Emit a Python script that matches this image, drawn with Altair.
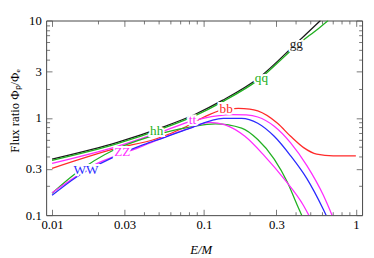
import altair as alt
import pandas as pd

# ---- curve data ----
channels = ["gg", "qq", "bb", "tt", "hh", "ZZ", "WW"]
colors = ["#1a1a1a", "#22b022", "#ff2a2a", "#ff2bff", "#22b022", "#ff2bff", "#2a2aff"]

gg_x = [0.01, 0.0269, 0.0526, 0.0883, 0.132, 0.229, 0.403, 0.584]
gg_y = [0.377, 0.56, 0.794, 1.095, 1.51, 2.57, 5.78, 10.0]

qq_x = [0.01, 0.0269, 0.0526, 0.0883, 0.132, 0.229, 0.403, 0.584, 0.657]
qq_y = [0.366, 0.543, 0.77, 1.06, 1.46, 2.47, 5.45, 8.6, 10.0]

bb_x = [0.01, 0.0257, 0.0487, 0.076, 0.1, 0.131, 0.168, 0.2, 0.226, 0.305, 0.372, 0.453, 0.552, 0.709, 1.0]
bb_y = [0.303, 0.48, 0.61, 0.81, 1.02, 1.2, 1.25, 1.23, 1.18, 0.88, 0.646, 0.494, 0.423, 0.407, 0.407]

tt_x = [0.01, 0.0269, 0.0526, 0.0839, 0.122, 0.152, 0.19, 0.226, 0.29, 0.372, 0.476, 0.61, 0.697]
tt_y = [0.341, 0.51, 0.72, 0.93, 1.05, 1.08, 1.07, 1.02, 0.82, 0.554, 0.323, 0.161, 0.1]

hh_x = [0.01, 0.0142, 0.0257, 0.0362, 0.054, 0.0841, 0.119, 0.177, 0.226, 0.29, 0.353, 0.41, 0.44]
hh_y = [0.168, 0.266, 0.47, 0.58, 0.70, 0.814, 0.866, 0.784, 0.598, 0.377, 0.22, 0.128, 0.1]

zz_x = [0.01, 0.0142, 0.02, 0.0257, 0.0372, 0.05, 0.078, 0.11, 0.138, 0.186, 0.25, 0.336, 0.453, 0.49]
zz_y = [0.17, 0.247, 0.343, 0.401, 0.494, 0.598, 0.77, 0.9, 0.846, 0.646, 0.407, 0.237, 0.125, 0.1]

ww_x = [0.01, 0.0145, 0.025, 0.04, 0.0552, 0.078, 0.134, 0.177, 0.226, 0.29, 0.372, 0.476, 0.61, 0.637]
ww_y = [0.16, 0.247, 0.39, 0.53, 0.631, 0.766, 0.99, 0.99, 0.88, 0.646, 0.407, 0.237, 0.115, 0.1]

label_text = ["gg", "qq", "bb", "tt", "hh", "ZZ", "WW"]
label_x = [0.405, 0.239, 0.140, 0.0839, 0.0488, 0.029, 0.0167]
label_y = [5.78, 2.57, 1.24, 0.95, 0.73, 0.443, 0.292]

x_ticks = [0.01, 0.02, 0.03, 0.04, 0.05, 0.06, 0.07, 0.08, 0.09,
           0.1, 0.2, 0.3, 0.4, 0.5, 0.6, 0.7, 0.8, 0.9, 1.0]
x_major = [0.01, 0.03, 0.1, 0.3, 1]
y_ticks = [0.1, 0.2, 0.3, 0.4, 0.5, 0.6, 0.7, 0.8, 0.9,
           1, 2, 3, 4, 5, 6, 7, 8, 9, 10]
y_major = [0.1, 0.3, 1, 3, 10]

series = {"gg": (gg_x, gg_y), "qq": (qq_x, qq_y), "bb": (bb_x, bb_y), "tt": (tt_x, tt_y),
          "hh": (hh_x, hh_y), "ZZ": (zz_x, zz_y), "WW": (ww_x, ww_y)}
rows = []
for ch in channels:
    xs, ys = series[ch]
    for x, y in zip(xs, ys):
        rows.append({"ch": ch, "x": x, "y": y})
df = pd.DataFrame(rows)
labels_df = pd.DataFrame({"ch": channels, "text": label_text, "x": label_x, "y": label_y})

FONT = "Liberation Serif"
xscale = alt.Scale(type="log", domain=[0.00914, 1.099], nice=False)
yscale = alt.Scale(type="log", domain=[0.1, 10], nice=False)
cscale = alt.Scale(domain=channels, range=colors)


def tick_expr(major):
    arr = ",".join(str(v) for v in major)
    return {"expr": f"indexof([{arr}], datum.value) >= 0 ? -6 : -3.5"}


def label_expr(major):
    arr = ",".join(str(v) for v in major)
    return f"indexof([{arr}], datum.value) >= 0 ? format(datum.value, '~g') : ''"


x_bottom = alt.Axis(values=x_ticks, labelExpr=label_expr(x_major), tickSize=tick_expr(x_major),
                    domain=False, grid=False, tickColor="#555", tickWidth=0.8,
                    labelFont=FONT, labelFontSize=13, labelColor="black", labelPadding=10,
                    labelFlush=False, labelOverlap=False,
                    title="E/M", titleFont=FONT, titleFontSize=13, titleFontStyle="italic",
                    titleFontWeight="normal", titleColor="black", titleX=158, titleY=35,
                    titleBaseline="middle", titleAlign="center")
y_left = alt.Axis(values=y_ticks, labelExpr=label_expr(y_major), tickSize=tick_expr(y_major),
                  domain=False, grid=False, tickColor="#555", tickWidth=0.8,
                  labelFont=FONT, labelFontSize=13, labelColor="black", labelPadding=11,
                  labelFlush=False, labelOverlap=False,
                  title="Flux ratio Φₚ/Φₑ", titleFont=FONT, titleFontSize=13,
                  titleFontWeight="normal", titleColor="black", titleAngle=270,
                  titleX=-32, titleY=92, titleBaseline="middle", titleAlign="center")
x_top = alt.Axis(orient="top", values=x_ticks, labels=False, tickSize=tick_expr(x_major),
                 domain=False, grid=False, tickColor="#555", tickWidth=0.8, title=None)
y_right = alt.Axis(orient="right", values=y_ticks, labels=False, tickSize=tick_expr(y_major),
                   domain=False, grid=False, tickColor="#555", tickWidth=0.8, title=None)

lines = alt.Chart(df).mark_line(strokeWidth=1.3, interpolate="monotone", clip=True).encode(
    x=alt.X("x:Q", scale=xscale, axis=x_bottom),
    y=alt.Y("y:Q", scale=yscale, axis=y_left),
    color=alt.Color("ch:N", scale=cscale, legend=None),
)

frame_axes = alt.Chart(df).mark_point(opacity=0).encode(
    x=alt.X("x:Q", scale=xscale, axis=x_top),
    y=alt.Y("y:Q", scale=yscale, axis=y_right),
)

halo = alt.Chart(labels_df).mark_text(font=FONT, fontSize=13.5, stroke="white", strokeWidth=4,
                                      fill="white", baseline="middle").encode(
    x=alt.X("x:Q", scale=xscale, axis=None),
    y=alt.Y("y:Q", scale=yscale, axis=None),
    text="text:N",
)
texts = alt.Chart(labels_df).mark_text(font=FONT, fontSize=13.5, baseline="middle").encode(
    x=alt.X("x:Q", scale=xscale, axis=None),
    y=alt.Y("y:Q", scale=yscale, axis=None),
    text="text:N",
    color=alt.Color("ch:N", scale=cscale, legend=None),
)

chart = alt.layer(lines, halo, texts, frame_axes).resolve_axis(
    x="independent", y="independent"
).properties(
    width=323, height=199,
    autosize=alt.AutoSizeParams(type="none"),
    padding={"left": 39, "top": 10, "right": 4, "bottom": 41},
).configure_view(stroke="#444", strokeWidth=1)

chart.save("out.html", embed_options={"renderer": "svg", "actions": False})
